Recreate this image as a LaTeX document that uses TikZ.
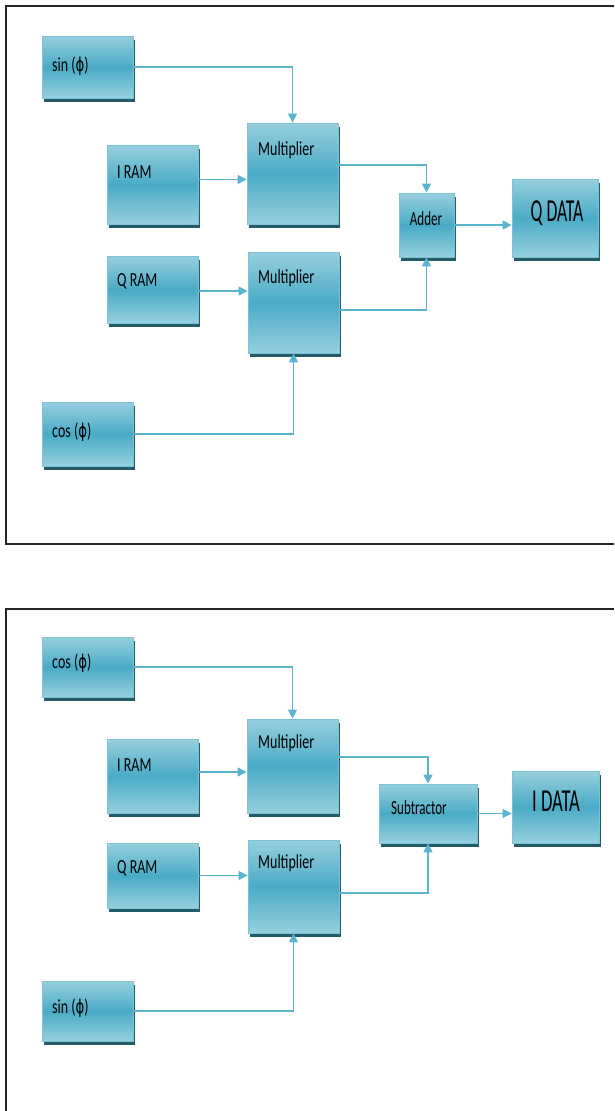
\documentclass[tikz,border=0pt]{standalone}
\usepackage{fontspec}
\usepackage{graphicx}
\setmainfont{Carlito}
\newfontfamily\djv{DejaVu Sans}
\usetikzlibrary{arrows.meta,shadows}
\definecolor{boxlight}{HTML}{96CFDE}
\definecolor{boxdark}{HTML}{4AABC6}
\definecolor{boxborder}{HTML}{7CC3D6}
\definecolor{boxshadow}{HTML}{235B6A}
\definecolor{arrowc}{HTML}{5AB4CE}
\newcommand{\nar}[2][0.7]{\scalebox{#1}[1]{#2}}
\newcommand{\ph}{{\djv\fontsize{19}{19}\selectfont ϕ}}
\begin{document}
\begin{tikzpicture}[x=1pt,y=-1pt,
  blk/.style={rectangle, draw=boxborder, line width=0.8pt, top color=boxlight, bottom color=boxlight, middle color=boxdark, inner sep=0,
    drop shadow={shadow xshift=1.5pt, shadow yshift=-3.5pt, fill=boxshadow, opacity=1}},
  lbl/.style={anchor=west, inner sep=0, font=\fontsize{20}{21}\selectfont, text=black},
  big/.style={anchor=center, inner sep=0, font=\fontsize{32}{34}\selectfont, text=black},
  conn/.style={draw=arrowc, line width=1.4pt, -{Triangle[length=9pt,width=9pt]}},
  frame/.style={draw=black!85, line width=1.6pt}]
\useasboundingbox (0,0) rectangle (614,1111);
\draw[frame] (614,6) -- (6,6) -- (6,544) -- (614,544);
\draw[frame] (614,609) -- (6,609) -- (6,1111);

% ---------- top panel ----------
\node[blk, minimum width=91pt, minimum height=62pt] (s1) at (87.5,67) {};
\node[blk, minimum width=91pt, minimum height=79pt] (ir1) at (152.5,184.5) {};
\node[blk, minimum width=91pt, minimum height=101pt] (m1) at (292.5,173.5) {};
\node[blk, minimum width=91pt, minimum height=67pt] (qr1) at (152.5,289.5) {};
\node[blk, minimum width=91pt, minimum height=101pt] (m2) at (293.5,302.5) {};
\node[blk, minimum width=91pt, minimum height=64pt] (c1) at (87.5,434) {};
\node[blk, minimum width=55pt, minimum height=64pt] (add) at (426.5,225) {};
\node[blk, minimum width=86pt, minimum height=78pt] (qd) at (555,218) {};

\node[lbl] (ts1) at (52,66) {\nar{sin (\ph)}};
\node[lbl] (tir1) at (117,172) {\nar{I RAM}};
\node[lbl] (tm1) at (258,150) {\nar{Multiplier}};
\node[lbl] (tqr1) at (117,281) {\nar{Q RAM}};
\node[lbl] (tm2) at (258,278) {\nar{Multiplier}};
\node[lbl] (tc1) at (52,432) {\nar{cos (\ph)}};
\node[lbl, anchor=center] (tadd) at (426,219) {\nar[0.65]{Adder}};
\node[big] (tqd) at (557,213) {\nar[0.55]{Q DATA}};

\draw[conn] (s1.east) -| (m1.north);
\draw[conn] ([yshift=5pt]ir1.east) -- ([yshift=5pt]ir1.east -| m1.west);
\draw[conn] ([yshift=-1.5pt]qr1.east) -- ([yshift=-1.5pt]qr1.east -| m2.west);
\draw[conn] (c1.east) -| (m2.south);
\draw[conn] ([yshift=8.5pt]m1.east) -| (add.north);
\draw[conn] ([yshift=-7.5pt]m2.east) -| (add.south);
\draw[conn] (add.east) -- (add.east -| qd.west);

% ---------- bottom panel ----------
\node[blk, minimum width=91pt, minimum height=60pt] (c2) at (87.5,667) {};
\node[blk, minimum width=91pt, minimum height=74pt] (ir2) at (152.5,776) {};
\node[blk, minimum width=91pt, minimum height=94pt] (m3) at (292.5,766) {};
\node[blk, minimum width=91pt, minimum height=65pt] (qr2) at (152.5,875.5) {};
\node[blk, minimum width=91pt, minimum height=93pt] (m4) at (293.5,886.5) {};
\node[blk, minimum width=91pt, minimum height=60pt] (s2) at (87.5,1011) {};
\node[blk, minimum width=98pt, minimum height=59pt] (sub) at (428,813.5) {};
\node[blk, minimum width=87pt, minimum height=72pt] (id) at (555.5,807) {};

\node[lbl] (tc2) at (52,663) {\nar{cos (\ph)}};
\node[lbl] (tir2) at (117,765) {\nar{I RAM}};
\node[lbl] (tm3) at (258,743) {\nar{Multiplier}};
\node[lbl] (tqr2) at (117,868) {\nar{Q RAM}};
\node[lbl] (tm4) at (258,863) {\nar{Multiplier}};
\node[lbl] (ts2) at (52,1008) {\nar{sin (\ph)}};
\node[lbl, anchor=center] (tsub) at (419,808) {\nar[0.65]{Subtractor}};
\node[big] (tid) at (556,801) {\nar[0.58]{I DATA}};

\draw[conn] (c2.east) -| (m3.north);
\draw[conn] ([yshift=4pt]ir2.east) -- ([yshift=4pt]ir2.east -| m3.west);
\draw[conn] (qr2.east) -- (qr2.east -| m4.west);
\draw[conn] (s2.east) -| (m4.south);
\draw[conn] ([yshift=9pt]m3.east) -| (sub.north);
\draw[conn] ([yshift=-6.5pt]m4.east) -| (sub.south);
\draw[conn] (sub.east) -- (sub.east -| id.west);
\end{tikzpicture}
\end{document}
